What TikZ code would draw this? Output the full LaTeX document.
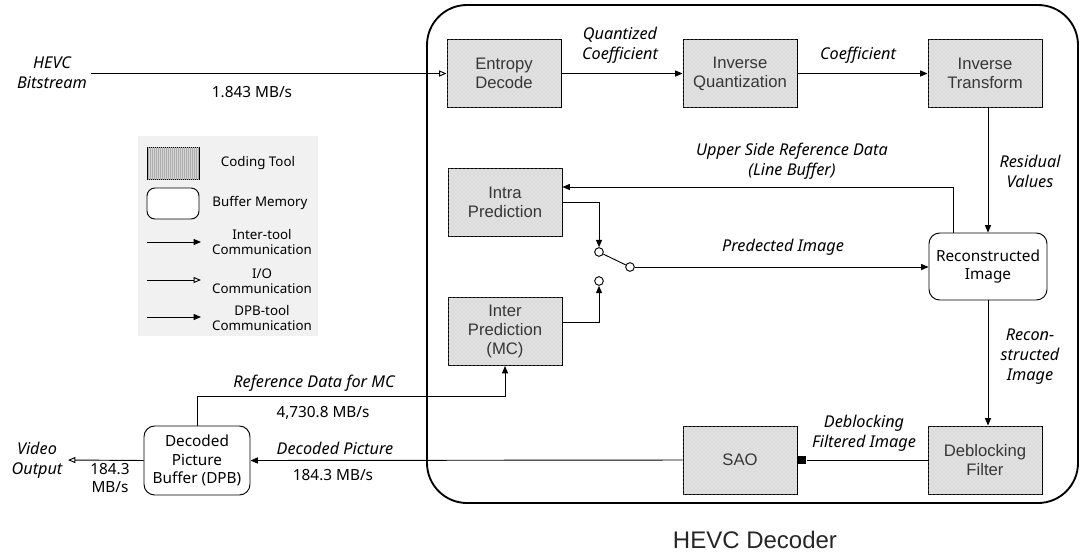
\documentclass[tikz,border=0pt]{standalone}
\usepackage{fontspec}
\setmainfont{Noto Sans}
\newfontfamily\boxfont{Liberation Sans}
\usetikzlibrary{arrows.meta,calc,patterns,patterns.meta}
\definecolor{toolfill}{RGB}{226,226,226}
\definecolor{swatchfill}{RGB}{214,214,214}
\definecolor{legendbg}{RGB}{241,241,241}
\definecolor{boxtext}{RGB}{55,55,55}
\tikzset{
  px/.style={x=0.75pt,y=-0.75pt},
  tool/.style={draw, line width=0.7pt, fill=toolfill,
    postaction={pattern=crosshatch dots, pattern color=black!22},
    minimum width=85.5pt, minimum height=51pt, align=center,
    font=\boxfont\fontsize{12.5}{14.3}\selectfont, text=boxtext, inner sep=1pt},
  buffer/.style={draw, line width=0.7pt, fill=white, rounded corners=8pt,
    align=center, font=\fontsize{11.5}{13.8}\selectfont, inner sep=1pt},
  lbl/.style={font=\itshape\fontsize{12.2}{15}\selectfont, align=center, inner sep=0pt},
  rate/.style={font=\fontsize{11.5}{13}\selectfont, align=center, inner sep=0pt},
  conn/.style={line width=0.7pt},
  tip/.style={conn, -{Triangle[length=5.5pt,width=4.5pt]}},
  iotip/.style={conn, -{Triangle[open,length=5.5pt,width=4.5pt]}},
  contact/.style={circle, draw, line width=0.7pt, fill=white, minimum size=6.5pt, inner sep=0pt},
  legtext/.style={font=\fontsize{10}{11.5}\selectfont, align=center, inner sep=0pt},
  port/.style={fill=black, minimum width=6.5pt, minimum height=6pt, inner sep=0pt},
}
\begin{document}
\begin{tikzpicture}[px]
\useasboundingbox (0,0) rectangle (1082,558);

% decoder outline
\node (dec) [draw, line width=1.4pt, rounded corners=30pt, minimum width=488.25pt,
  minimum height=373.5pt] at (752.5,254) {};
\node (declbl) [font=\boxfont\fontsize{18}{20}\selectfont, text=black!85] at (755,540) {HEVC Decoder};

% coding tools
\node (ent)  [tool] at (504,73.5) {Entropy\\Decode};
\node (invq) [tool] at (740,73.5) {Inverse\\Quantization};
\node (invt) [tool] at (985,73.5) {Inverse\\Transform};
\node (intra)[tool] at (505,202.5) {Intra\\Prediction};
\node (inter)[tool] at (505,331.5) {Inter\\Prediction\\(MC)};
\node (sao)  [tool] at (740,460) {SAO};
\node (dbf)  [tool] at (985,460) {Deblocking\\Filter};

% buffers
\node (rec) [buffer, minimum width=88.5pt, minimum height=50.25pt] at (988,266.5) {Reconstructed\\Image};
\node (dpb) [buffer, minimum width=79.5pt, minimum height=51.75pt] at (197,460.5) {Decoded\\Picture\\Buffer (DPB)};

% prediction switch
\node (sw1) [contact] at (599,252) {};
\node (sw2) [contact] at (599,281) {};
\node (swp) [contact] at (630,267) {};

% input port of the SAO
\node (saoport) [port, anchor=west] at (sao.east) {};

% free ends
\coordinate (bsin) at (91,73.5);
\coordinate (vout) at (68,460);

% connectors
\draw[iotip] (bsin) -- (ent.west);
\draw[tip] (ent.east) -- (invq.west);
\draw[tip] (invq.east) -- (invt.west);
\draw[tip] (invt.south -| rec.north) -- (rec.north);
\draw[tip] ($(rec.north)+(-35,0)$) |- ($(intra.east)+(0,-15.5)$);
\draw[tip] (intra.east) -| (sw1.north);
\draw[tip] ($(inter.east)+(0,-9.5)$) -| (sw2.south);
\draw[conn] (sw1) -- (swp);
\draw[tip] (swp.east) -- (rec.west |- swp.east);
\draw[tip] (rec.south) -- (rec.south |- dbf.north);
\draw[conn] (dbf.west) -- (saoport.east);
\draw[tip] (sao.west) -- (dpb.east);
\draw[iotip] (dpb.west) -- (vout);
\draw[tip] (dpb.north) |- ($(inter.south)+(0,30)$) -- (inter.south);

% labels
\node (l1) [lbl] at (52,73) {HEVC\\Bitstream};
\node (l2) [rate] at (252,92) {1.843 MB/s};
\node (l3) [lbl] at (620,45) {Quantized\\Coefficient};
\node (l4) [lbl] at (858,55) {Coefficient};
\node (l5) [lbl] at (792,161) {Upper Side Reference Data\\(Line Buffer)};
\node (l6) [lbl] at (783,247) {Predected Image};
\node (l7) [lbl] at (1030,171) {Residual\\Values};
\node (l8) [lbl] at (1030,357) {Recon-\\structed\\Image};
\node (l9) [lbl] at (864,433) {Deblocking\\Filtered Image};
\node (l10) [lbl] at (335,448) {Decoded Picture};
\node (l11) [rate] at (333,475) {184.3 MB/s};
\node (l12) [lbl] at (314,383) {Reference Data for MC};
\node (l13) [rate] at (323,413) {4,730.8 MB/s};
\node (l14) [lbl] at (37,460) {Video\\Output};
\node (l15) [rate] at (110,478) {184.3\\MB/s};

% legend
\node (leg) [fill=legendbg, minimum width=135pt, minimum height=150pt, inner sep=0pt] at (228,235.5) {};
\node (swt) [draw, line width=0.7pt, fill=swatchfill,
  postaction={pattern={Lines[angle=90,distance=1.5pt,line width=0.5pt]}, pattern color=black!32},
  minimum width=39pt, minimum height=24pt, inner sep=0pt] at (173,163) {};
\node (swb) [draw, line width=0.7pt, fill=white, rounded corners=6pt, minimum width=39pt, minimum height=23.25pt, inner sep=0pt] at (173,203.5) {};
\node (lt1) [legtext] at (258,163) {Coding Tool};
\node (lt2) [legtext] at (260,203) {Buffer Memory};
\node (lt3) [legtext, font=\bfseries\fontsize{10}{11.5}\selectfont] at (262,242) {Inter-tool\\Communication};
\node (lt4) [legtext] at (262,281) {I/O\\Communication};
\node (lt5) [legtext] at (262,318) {DPB-tool\\Communication};
\coordinate (a1s) at (147,242); \coordinate (a1e) at (201,242);
\coordinate (a2s) at (147,280); \coordinate (a2e) at (201,280);
\coordinate (a3s) at (147,317); \coordinate (a3e) at (201,317);
\draw[tip] (a1s) -- (a1e);
\draw[iotip] (a2s) -- (a2e);
\draw[tip] (a3s) -- (a3e);
\end{tikzpicture}
\end{document}
